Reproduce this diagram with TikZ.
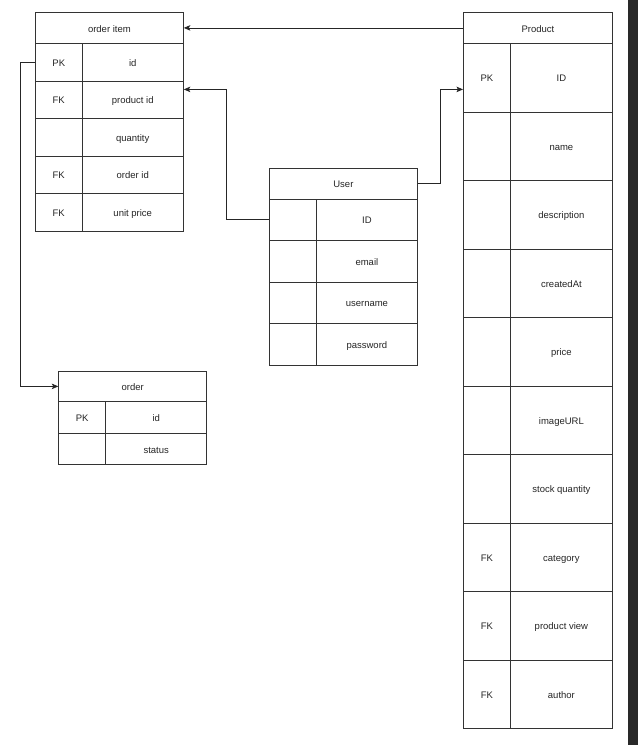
\documentclass[tikz,border=0pt]{standalone}
\usepackage{fontspec}
\setmainfont{Liberation Sans}
\usetikzlibrary{arrows.meta}
\begin{document}
\begin{tikzpicture}[x=1pt,y=-1pt,
  cell/.style={draw=black!80, line width=0.8pt, anchor=north west, inner sep=0pt,
    font=\fontsize{9.5}{11}\selectfont, text=black!85, text height=9pt, text depth=0.8pt},
  sz/.style 2 args={minimum width=#1, minimum height=#2},
  link/.style={draw=black!85, line width=0.8pt, -{Stealth[length=6.5pt,width=5.5pt,inset=1.5pt]}},
]
\useasboundingbox (0,0) rectangle (638,745);
\fill[white] (0,0) rectangle (638,745);
\fill[black!84] (627.7,0) rectangle (638,745);

% order item
\node[cell, sz={148pt}{31pt}] (oih) at (35,12) {order item};
\foreach \k/\n [count=\i from 1] in {PK/id, FK/product id, /quantity, FK/order id, FK/unit price}{
  \node[cell, sz={46.7pt}{37.5pt}] (oik\i) at (35,{43+37.5*(\i-1)}) {\k};
  \node[cell, sz={101.3pt}{37.5pt}] (oin\i) at (81.7,{43+37.5*(\i-1)}) {\n};
}

% Product
\node[cell, sz={149pt}{31pt}] (ph) at (463,12) {Product};
\foreach \k/\n [count=\i from 1] in {PK/ID, /name, /description, /createdAt, /price, /imageURL, /stock quantity, FK/category, FK/product view, FK/author}{
  \node[cell, sz={47pt}{68.5pt}] (pk\i) at (463,{43+68.5*(\i-1)}) {\k};
  \node[cell, sz={102pt}{68.5pt}] (pn\i) at (510,{43+68.5*(\i-1)}) {\n};
}

% User
\node[cell, sz={148.6pt}{31pt}] (uh) at (268.7,167.7) {User};
\foreach \k/\n [count=\i from 1] in {/ID, /email, /username, /password}{
  \node[cell, sz={47pt}{41.5pt}] (uk\i) at (268.7,{198.7+41.5*(\i-1)}) {\k};
  \node[cell, sz={101.6pt}{41.5pt}] (un\i) at (315.7,{198.7+41.5*(\i-1)}) {\n};
}

% order
\node[cell, sz={148pt}{30.6pt}] (oh) at (58.3,370.7) {order};
\foreach \k/\n [count=\i from 1] in {PK/id, /status}{
  \node[cell, sz={47pt}{31.5pt}] (ok\i) at (58.3,{401.3+31.5*(\i-1)}) {\k};
  \node[cell, sz={101pt}{31.5pt}] (on\i) at (105.3,{401.3+31.5*(\i-1)}) {\n};
}

% connectors
\draw[link] (ph.west) -- (oih.east);
\draw[link] (uk1.west) -- ++(-42.7,0) |- ([yshift=10.25pt]oin2.east);
\draw[link] (uh.east) -- ++(22.7,0) |- ([yshift=-11.75pt]pk1.west);
\draw[link] (oik1.west) -- ++(-14.5,0) |- (oh.west);
\end{tikzpicture}
\end{document}
